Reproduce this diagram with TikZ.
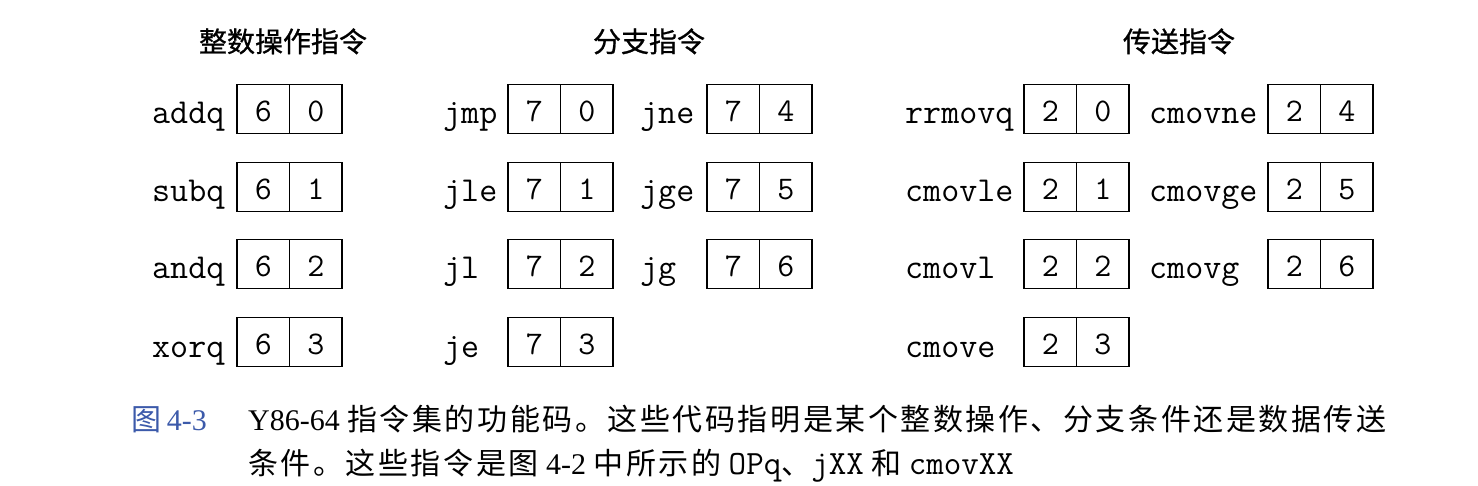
\documentclass[tikz,border=0pt]{standalone}
\usepackage{fontspec}
\setmainfont{Liberation Serif}
\newfontfamily\cjk{Noto Sans CJK SC}
\newfontfamily\cjkh[FakeBold=0.8]{Noto Sans CJK SC}
\newfontfamily\capcjk[LetterSpace=8.5]{Noto Sans CJK SC}
\definecolor{capblue}{RGB}{60,90,170}
\tikzset{
  lbl/.style={anchor=base west, inner sep=0pt, font=\ttfamily\fontsize{35}{40}\selectfont},
  cell/.style={draw, line width=1.7pt, minimum width=52.5pt, minimum height=49pt, inner sep=0pt,
    text height=26pt, text depth=0pt, font=\ttfamily\fontsize{33}{36}\selectfont},
  head/.style={anchor=base, inner sep=0pt, font=\cjkh\fontsize{28}{30}\selectfont},
  capline/.style={anchor=base west, inner sep=0pt, font=\fontsize{30}{34}\selectfont},
}
\newcommand{\cmono}[1]{{\ttfamily\fontsize{34}{36}\selectfont #1}}
\begin{document}
\begin{tikzpicture}[x=1pt, y=-1pt]
\useasboundingbox (0,0) rectangle (1478,486);
\fill[white] (0,0) rectangle (1478,486);
% headers
\node[head] (h1) at (283,52) {整数操作指令};
\node[head] (h2) at (649,52) {分支指令};
\node[head] (h3) at (1179,52) {传送指令};
% column A
\foreach \nm/\ry/\dg in {addq/109/0, subq/187/1, andq/264/2, xorq/342/3}{
  \node[lbl] (l-\nm) at (152,\ry+15) {\nm};
  \node[cell] (a-\nm) at (237+26.25,\ry) {6};
  \node[cell] (b-\nm) at (237+78.75,\ry) {\dg};
}
% column B
\foreach \nm/\ry/\dg in {jmp/109/0, jle/187/1, jl/264/2, je/342/3}{
  \node[lbl] (l-\nm) at (443,\ry+15) {\nm};
  \node[cell] (a-\nm) at (508+26.25,\ry) {7};
  \node[cell] (b-\nm) at (508+78.75,\ry) {\dg};
}
% column C
\foreach \nm/\ry/\dg in {jne/109/4, jge/187/5, jg/264/6}{
  \node[lbl] (l-\nm) at (640,\ry+15) {\nm};
  \node[cell] (a-\nm) at (707+26.25,\ry) {7};
  \node[cell] (b-\nm) at (707+78.75,\ry) {\dg};
}
% column D
\foreach \nm/\ry/\dg in {rrmovq/109/0, cmovle/187/1, cmovl/264/2, cmove/342/3}{
  \node[lbl] (l-\nm) at (905,\ry+15) {\nm};
  \node[cell] (a-\nm) at (1024+26.25,\ry) {2};
  \node[cell] (b-\nm) at (1024+78.75,\ry) {\dg};
}
% column E
\foreach \nm/\ry/\dg in {cmovne/109/4, cmovge/187/5, cmovg/264/6}{
  \node[lbl] (l-\nm) at (1149,\ry+15) {\nm};
  \node[cell] (a-\nm) at (1268+26.25,\ry) {2};
  \node[cell] (b-\nm) at (1268+78.75,\ry) {\dg};
}
% caption
\node[anchor=base east, inner sep=0pt, text=capblue, font=\fontsize{30}{34}\selectfont] (fig) at (207,430) {{\cjk 图}\,4-3};
\node[capline] (c1) at (248,430) {Y86-64 {\capcjk 指令集的功能码。这些代码指明是某个整数操作、分支条件还是数据传送}};
\node[capline] (c2) at (248,474) {{\capcjk 条件。这些指令是图} 4-2 {\capcjk 中所示的} \cmono{OPq}{\capcjk 、}\cmono{jXX} {\capcjk 和} \cmono{cmovXX}};
\end{tikzpicture}
\end{document}
